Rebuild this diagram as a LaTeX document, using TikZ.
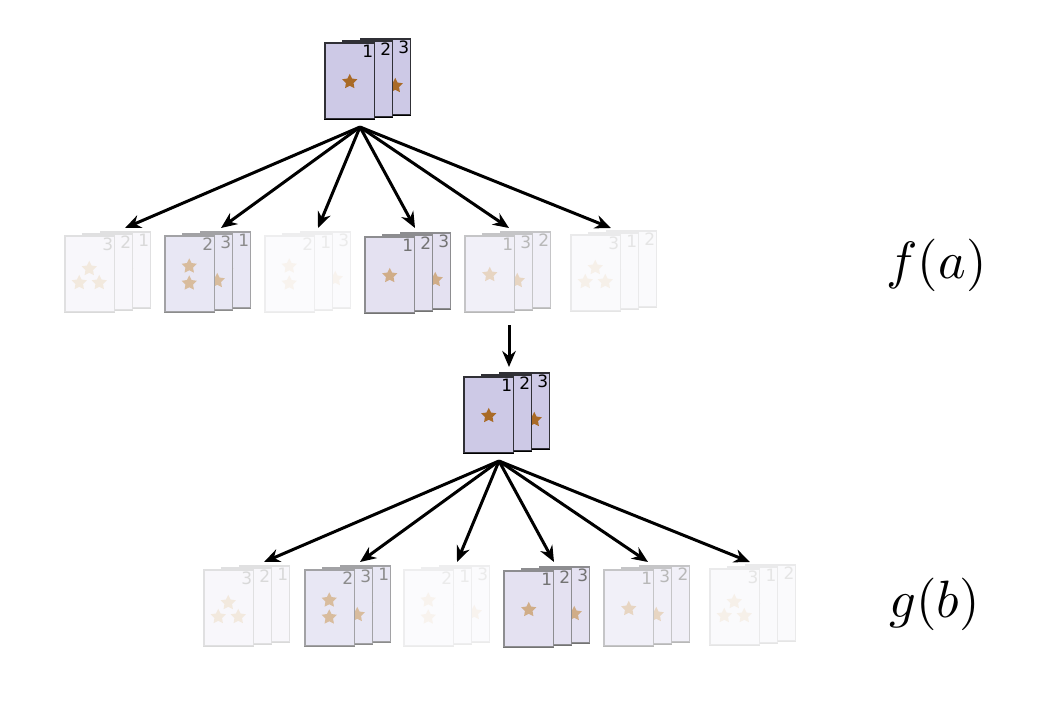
\documentclass[tikz,border=0pt]{standalone}
\usepackage{amsmath}
\usepackage{fontspec}
\setsansfont{DejaVu Sans}
\usepackage{xcolor}
\usetikzlibrary{shapes.geometric, arrows.meta, positioning}
\definecolor{cardfill}{HTML}{CDC9E6}
\definecolor{cardedge}{HTML}{303036}
\definecolor{starfill}{HTML}{A96A26}
\tikzstyle{card}     = [rectangle, minimum width=49.5pt, minimum height=75.5pt, inner sep=0pt,
                        line width=1.2pt, anchor=north west, xshift=-0.6pt, yshift=0.6pt]
\tikzstyle{cardnum}  = [inner sep=0pt, font=\sffamily\fontsize{17}{18}\selectfont]
\tikzstyle{cardstar} = [star, star points=5, star point ratio=2.0, minimum size=16pt, inner sep=0pt]
\tikzstyle{arrow}    = [line width=3pt, -{Stealth[length=16pt, width=13.5pt]}, black]
\tikzstyle{result}   = [inner sep=0pt, scale=5.25]

% one card: name, x, y, number on it, strength
\newcommand{\cardface}[5]{%
    \node (#1) [card, draw=cardedge!#5!white, fill=cardfill!#5!white] at (#2,#3) {};
    \draw [line width=1.2pt, black!#5] (#1.south west) -- (#1.south east);
    \node (#1-num) [cardnum, text=black!#5] at ([xshift=43.5pt, yshift=-9pt]#1.north west) {#4};
    \ifcase#4\or
        \node (#1-s1) [cardstar, fill=starfill!#5!white] at ([yshift=-1pt]#1.center) {};
    \or
        \node (#1-s1) [cardstar, fill=starfill!#5!white] at ([xshift=-0.5pt, yshift=7.5pt]#1.center) {};
        \node (#1-s2) [cardstar, fill=starfill!#5!white] at ([xshift=-0.5pt, yshift=-9.5pt]#1.center) {};
    \or
        \node (#1-s1) [cardstar, fill=starfill!#5!white] at ([xshift=-0.5pt, yshift=5pt]#1.center) {};
        \node (#1-s2) [cardstar, fill=starfill!#5!white] at ([xshift=-10.5pt, yshift=-9pt]#1.center) {};
        \node (#1-s3) [cardstar, fill=starfill!#5!white] at ([xshift=9.5pt, yshift=-9pt]#1.center) {};
    \fi
}
% three cards, back to front
\newcommand{\cardstack}[7]{%
    \cardface{#1-back}{#2+36}{#3-4}{#6}{#7}
    \cardface{#1-mid}{#2+18}{#3-2}{#5}{#7}
    \cardface{#1-front}{#2}{#3}{#4}{#7}
}

\begin{document}
\begin{tikzpicture}[x=1pt, y=-1pt]
    \useasboundingbox (0,0) rectangle (1047,715);

    \cardstack{fa}{325}{43}{1}{2}{3}{100}
    \cardstack{gb}{464}{377}{1}{2}{3}{100}

    % outcomes of each row
    \foreach \n/\x/\y/\a/\b/\c/\p in {
        fa1/65/236/3/2/1/15, fa2/165/236/2/3/1/45, fa3/265/236/2/1/3/8,
        fa4/365/237/1/2/3/55, fa5/465/236/1/3/2/28, fa6/571/235/3/1/2/10,
        gb1/204/570/3/2/1/15, gb2/305/570/2/3/1/45, gb3/404/570/2/1/3/8,
        gb4/504/571/1/2/3/55, gb5/604/570/1/3/2/28, gb6/710/569/3/1/2/10}
        {\cardstack{\n}{\x}{\y}{\a}{\b}{\c}{\p}}

    \coordinate (fa-src) at (360,127);
    \coordinate (gb-src) at (499,461);
    \coordinate (link-a) at (509,325);
    \coordinate (link-b) at (509,367);

    \foreach \n/\x in {fa1/125, fa2/221, fa3/318, fa4/415, fa5/509, fa6/611}
        {\coordinate (\n-tip) at (\x,228);
         \draw [arrow] (fa-src) -- (\n-tip);}
    \foreach \n/\x in {gb1/264, gb2/360, gb3/457, gb4/554, gb5/648, gb6/750}
        {\coordinate (\n-tip) at (\x,562);
         \draw [arrow] (gb-src) -- (\n-tip);}
    \draw [arrow] (link-a) -- (link-b);

    \node (fa-label) [result] at (936.5,265) {$f(a)$};
    \node (gb-label) [result] at (934.5,604) {$g(b)$};
\end{tikzpicture}
\end{document}
